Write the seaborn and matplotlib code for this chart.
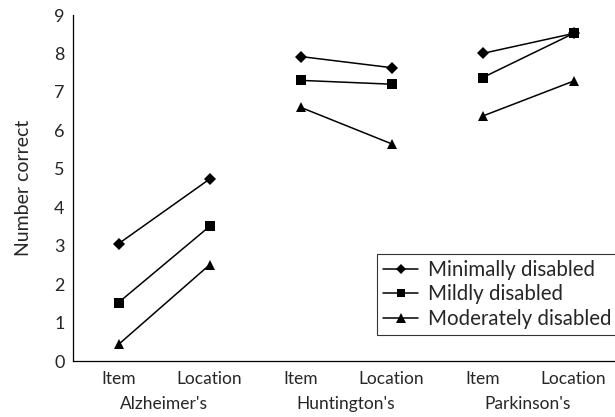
import pandas as pd
import matplotlib
matplotlib.use("Agg")
import matplotlib.pyplot as plt
import matplotlib.transforms as mtransforms
from matplotlib.lines import Line2D
import seaborn as sns

sns.set_theme(style="white")
plt.rcParams["font.family"] = ["Lato", "DejaVu Sans"]

# data
groups = ["Alzheimer's", "Huntington's", "Parkinson's"]
conditions = ["Item", "Location"]
severities = ["Minimally disabled", "Mildly disabled", "Moderately disabled"]
minimal = [3.05, 4.73, 7.92, 7.63, 8.0, 8.52]
mild = [1.52, 3.5, 7.3, 7.2, 7.37, 8.52]
moderate = [0.43, 2.5, 6.6, 5.65, 6.37, 7.28]
markers = ["D", "s", "^"]

rows = []
for sev, vals in zip(severities, [minimal, mild, moderate]):
    for i, v in enumerate(vals):
        rows.append({"pos": i, "group": groups[i // 2], "severity": sev, "value": v})
df = pd.DataFrame(rows)

fig = plt.figure(figsize=(6.15, 4.17), dpi=100)
ax = fig.add_axes([73 / 615, 56 / 417, 546 / 615, 346 / 417])

sns.lineplot(data=df, x="pos", y="value", hue="severity", style="severity",
             units="group", estimator=None, markers=markers, dashes=False,
             palette=["black"] * 3, hue_order=severities, style_order=severities,
             linewidth=1.1, markersize=7.5, markeredgewidth=0, ax=ax, legend=False)
for ln in ax.lines:
    if ln.get_marker() == "D":
        ln.set_markersize(6.0)
    elif ln.get_marker() == "s":
        ln.set_markersize(7.0)

ax.set_xlim(-0.5, 5.5)
ax.set_ylim(0, 9)
ax.set_yticks(range(10))
ax.set_xticks(range(6))
ax.set_xticklabels(conditions * 3)
ax.set_xticks([0.5, 1.5, 2.5, 3.5, 4.5], minor=True)
ax.tick_params(axis="x", which="major", length=0, pad=7, labelsize=12.5)
ax.tick_params(axis="x", which="minor", direction="in", length=10, width=0.9, color="black")
ax.tick_params(axis="y", direction="in", length=10, width=0.9, color="black", labelsize=13, pad=6)
ax.set_xlabel("")
ax.set_ylabel("Number correct", fontsize=14, labelpad=16)

for s in ["top", "right"]:
    ax.spines[s].set_visible(False)
for s in ["left", "bottom"]:
    ax.spines[s].set_color("black")
    ax.spines[s].set_linewidth(0.9)

trans = mtransforms.blended_transform_factory(ax.transData, ax.transAxes)
for k, g in enumerate(groups):
    ax.text(2 * k + 0.5, -0.124, g, transform=trans, ha="center", va="center", fontsize=12.5)

handles = [Line2D([], [], color="black", marker=m, markersize=s, linewidth=1.1,
                  markeredgewidth=0)
           for m, s in zip(markers, [4.8, 5.8, 6.5])]
leg = fig.legend(handles, severities, loc="lower right", bbox_to_anchor=(1.005, 82 / 417),
                 fontsize=14.8, frameon=True, fancybox=False, handlelength=1.7,
                 handletextpad=0.5, labelspacing=0.22, borderpad=0.3, borderaxespad=0)
leg.get_frame().set_edgecolor("black")
leg.get_frame().set_linewidth(0.8)

fig.savefig("out.png", dpi=100)
